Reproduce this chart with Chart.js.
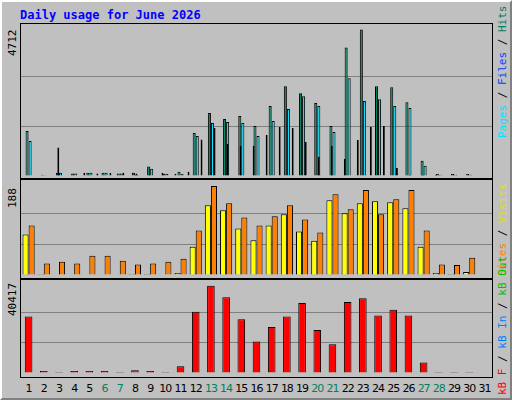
<!DOCTYPE html>
<html>
<head>
<meta charset="utf-8">
<script src="https://cdn.jsdelivr.net/npm/chart.js@4"></script>
<style>
  body { margin: 0; background: #fff; }
  #frame { position: absolute; left: 0; top: 0; width: 508px; height: 396px; background: #c0c0c0;
           border-top: 2px solid #fff; border-left: 2px solid #fff; border-right: 2px solid #808080; border-bottom: 2px solid #808080;
           font-family: "DejaVu Sans Mono", monospace; }
  .title { position: absolute; left: 18px; top: 6px; color: #0000ff; font-weight: bold; font-size: 12px; }
  canvas { position: absolute; }
  .box { position: absolute; left: 18px; width: 471px; border: 1px solid #000; }
  .rot { position: absolute; transform: rotate(-90deg); transform-origin: left top; font-size: 11px; white-space: nowrap; }
  .xl { position: absolute; top: 380px; font-size: 11px; width: 16px; text-align: center; letter-spacing: -1px;
        font-family: "DejaVu Sans", sans-serif; }
</style>
</head>
<body>
<div id="frame">
  <div class="title">Daily usage for June 2026</div>
  <div class="box" style="top:21px;height:155px"></div>
  <div class="box" style="top:176px;height:100px"></div>
  <div class="box" style="top:276px;height:98px"></div>
  <canvas id="c1" width="471" height="155" style="left:19px;top:22px"></canvas>
  <canvas id="c2" width="471" height="99" style="left:19px;top:177px"></canvas>
  <canvas id="c3" width="471" height="97" style="left:19px;top:277px"></canvas>
  <div class="rot" style="left:4px;top:54px">4712</div>
  <div class="rot" style="left:4px;top:206px">188</div>
  <div class="rot" style="left:4px;top:314px">40417</div>
  <div class="rot" style="left:494px;top:136px"><span style="color:#00e0ff">Pages</span> / <span style="color:#0040ff">Files</span> / <span style="color:#008060">Hits</span></div>
  <div class="rot" style="left:494px;top:274px"><span style="color:#ff8000">Sites</span> / <span style="color:#e0e000">Visits</span></div>
  <div class="rot" style="left:494px;top:393px"><span style="color:#ff0000">kB F</span> / <span style="color:#0080ff">kB In</span> / <span style="color:#00c000">kB Out</span></div>
  <div id="xlabels"></div>
</div>
<script>
var days = [];
for (var d = 1; d <= 31; d++) days.push(String(d));
var weekendDays = [6, 7, 13, 14, 20, 21, 27, 28];

var hits  = [1424, 40, 100, 80, 100, 100, 80, 100, 304, 70, 136, 1360, 1990, 1801, 1896, 1582, 2210, 2838, 2619, 2305, 1582, 4066, 4630, 2838, 2808, 2336, 482, 60, 60, 60, 0];
var files = [1110, 20, 100, 80, 100, 100, 80, 40, 230, 70, 60, 1267, 1676, 1707, 1676, 1267, 1739, 2116, 2525, 2210, 1393, 3091, 2368, 2431, 2210, 2148, 325, 40, 40, 40, 0];
var pages = [900, 20, 100, 80, 100, 100, 80, 40, 100, 70, 136, 1152, 1519, 1016, 953, 953, 1299, 1550, 1519, 1079, 608, 953, 545, 1142, 1550, 1582, 262, 30, 30, 30, 0];
var visits = [82, 2, 0, 0, 0, 0, 0, 2, 2, 0, 4, 57, 141, 131, 94, 70, 100, 123, 88, 69, 151, 125, 145, 149, 147, 135, 57, 4, 2, 6, 0];
var sites  = [100, 23, 27, 23, 39, 39, 29, 21, 23, 27, 33, 90, 180, 145, 116, 100, 119, 141, 112, 86, 163, 133, 172, 123, 153, 172, 90, 21, 20, 35, 0];
var kbytes = [25100, 850, 425, 850, 850, 850, 425, 1276, 850, 425, 2978, 27226, 38711, 33607, 23822, 14038, 20419, 25100, 31054, 19143, 12762, 31480, 33181, 25524, 28076, 25524, 4679, 425, 425, 425, 0];
var maxes = [4712, 188, 40417];

function bar(data, color, extra) {
  var ds = { data: data, backgroundColor: color, borderColor: '#000', borderWidth: 1,
             categoryPercentage: 0.8, barPercentage: 1 };
  for (var k in extra) ds[k] = extra[k];
  return ds;
}

function makeChart(id, datasets, max, extraX) {
  var scales = {
    x: { display: false, offset: true },
    y: { min: 0, max: max, display: true, ticks: { display: false },
         border: { display: false },
         grid: { color: function (c) { return (c.index === 1 || c.index === 2) ? '#808080' : 'rgba(0,0,0,0)'; }, lineWidth: 1, drawTicks: false },
         afterBuildTicks: function (s) { s.ticks = [0, max / 3, 2 * max / 3, max].map(function (v) { return { value: v }; }); } }
  };
  if (extraX) scales.x2 = { type: 'linear', display: false, min: 0.5, max: 31.5 };
  return new Chart(document.getElementById(id), {
    type: 'bar',
    data: { labels: days, datasets: datasets },
    options: {
      responsive: false, animation: false,
      layout: { padding: { top: 3, bottom: 3, left: 0, right: 0 } },
      plugins: { legend: { display: false }, tooltip: { enabled: false } },
      scales: scales
    }
  });
}

// pages: narrow bar in front of the hits bar (dataset 0 is painted last)
var pagesPts = pages.map(function (v, i) { return { x: i + 1 - 0.22, y: v }; });
makeChart('c1', [
  bar(pagesPts, '#0040ff', { xAxisID: 'x2', grouped: false, barPercentage: 0.15, categoryPercentage: 1 }),
  bar(hits, '#008060'),
  bar(files, '#00e0ff')
], maxes[0], true);

makeChart('c2', [bar(visits, '#ffff00'), bar(sites, '#ff8000')], maxes[1]);
makeChart('c3', [bar(kbytes, '#ff0000', { categoryPercentage: 0.5 })], maxes[2]);

var xl = document.getElementById('xlabels');
days.forEach(function (d, i) {
  var el = document.createElement('div');
  el.className = 'xl';
  el.textContent = d;
  el.style.left = (19 + (i + 0.5) * 471 / 31 - 8) + 'px';
  el.style.color = weekendDays.indexOf(i + 1) >= 0 ? '#008060' : '#000';
  xl.appendChild(el);
});
</script>
</body>
</html>
